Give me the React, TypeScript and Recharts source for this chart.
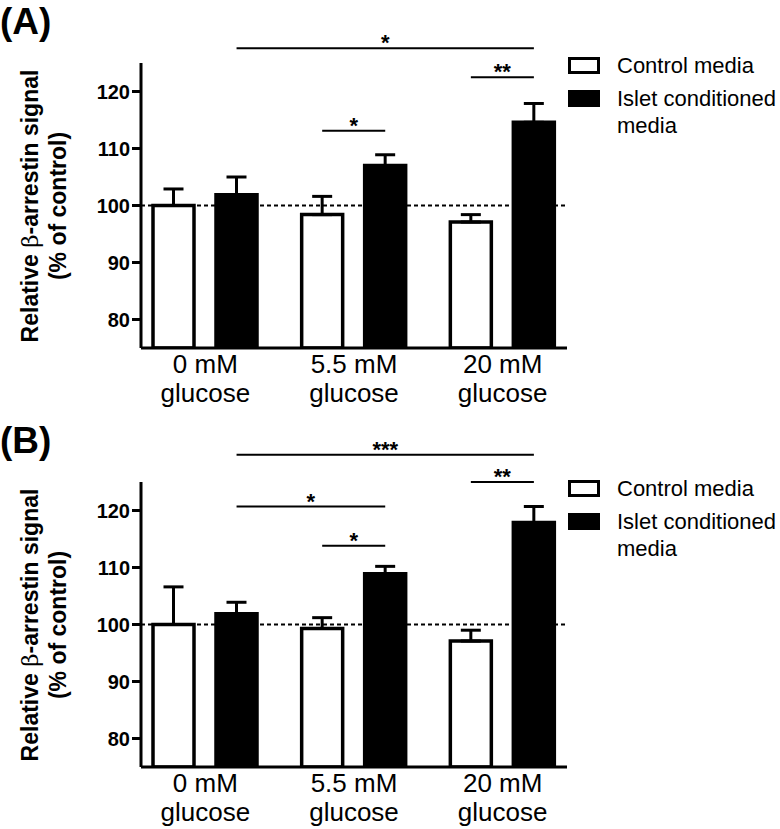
import React from 'react'
import { BarChart, Bar, XAxis, YAxis, ReferenceLine, ErrorBar, Legend } from 'recharts'

const FONT = '"Liberation Sans", Arial, Helvetica, sans-serif'

// categories
const groups = ['0 mM', '5.5 mM', '20 mM']
const groupSub = 'glucose'
const seriesNames = ['Control media', 'Islet conditioned media']

// panel A (mean, upper SEM)
const controlA = [100, 98.4, 97.1]
const controlErrA = [2.9, 3.2, 1.3]
const isletA = [101.9, 107.0, 114.6]
const isletErrA = [3.1, 1.9, 3.3]

// panel B
const controlB = [100, 99.3, 97.1]
const controlErrB = [6.6, 1.9, 1.9]
const isletB = [101.9, 108.9, 117.9]
const isletErrB = [2.0, 1.3, 2.8]

const yTicks = [80, 90, 100, 110, 120]
const yDomain = [75, 125]

// significance brackets: from/to = [group index, series], y in axis units
type Bracket = { from: [number, 'control' | 'islet']; to: [number, 'control' | 'islet']; y: number; mark: string }
const bracketsA: Bracket[] = [
  { from: [0, 'islet'], to: [2, 'islet'], y: 127.6, mark: '*' },
  { from: [2, 'control'], to: [2, 'islet'], y: 122.5, mark: '**' },
  { from: [1, 'control'], to: [1, 'islet'], y: 113.1, mark: '*' },
]
const bracketsB: Bracket[] = [
  { from: [0, 'islet'], to: [2, 'islet'], y: 129.8, mark: '***' },
  { from: [2, 'control'], to: [2, 'islet'], y: 125.0, mark: '**' },
  { from: [0, 'islet'], to: [1, 'islet'], y: 120.7, mark: '*' },
  { from: [1, 'control'], to: [1, 'islet'], y: 113.8, mark: '*' },
]

// bar centre inside a category band (fraction of the band), follows barSize/barGap below
const SERIES_POS = { control: 0.286, islet: 0.71 }

const buildRows = (ctrl: number[], ctrlErr: number[], isl: number[], islErr: number[]) =>
  groups.map((g, i) => ({
    group: g,
    slot: i + 0.5,
    control: ctrl[i],
    controlErr: [0, ctrlErr[i]],
    islet: isl[i],
    isletErr: [0, islErr[i]],
  }))

const GroupTick = ({ x, y, payload }: any) => (
  <text x={x} y={y} textAnchor="middle" fontFamily={FONT} fontSize={26} fill="#000">
    <tspan x={x} dy={25}>{payload.value}</tspan>
    <tspan x={x} dy={29}>{groupSub}</tspan>
  </text>
)

const starLabel = (mark: string) => (props: any) => {
  const vb = props.viewBox || {}
  return (
    <text x={vb.x + (vb.width || 0) / 2} y={vb.y + 2} textAnchor="middle" fontFamily={FONT} fontSize={22} fontWeight="bold" fill="#000">
      {mark}
    </text>
  )
}

const LegendBox = ({ payload }: any) => (
  <div style={{ position: 'relative', width: 213, height: 100, fontFamily: FONT, fontSize: 22, lineHeight: '27px', color: '#000' }}>
    {(payload || []).map((entry: any, i: number) => {
      const fill = entry.payload?.fill ?? entry.color
      return (
        <React.Fragment key={i}>
          <div style={{ position: 'absolute', left: 1, top: 5 + i * 33, width: 32, height: 17, boxSizing: 'border-box', border: '3px solid #000', background: fill }} />
          <div style={{ position: 'absolute', left: 50, top: i * 33, width: 165 }}>{entry.value}</div>
        </React.Fragment>
      )
    })}
  </div>
)

const AxisTitle = (tag: string) => () => (
  <g>
    <text x={0} y={34} fontFamily={FONT} fontSize={37} fontWeight="bold" fill="#000">{tag}</text>
    <text transform="rotate(-90)" x={-206} y={38} textAnchor="middle" fontFamily={FONT} fontSize={23} fontWeight="bold" fill="#000">
      Relative <tspan fontWeight="normal" fontFamily='"DejaVu Serif", serif'>β</tspan>-arrestin signal
    </text>
    <text transform="rotate(-90)" x={-206} y={66} textAnchor="middle" fontFamily={FONT} fontSize={23} fontWeight="bold" fill="#000">
      (% of control)
    </text>
  </g>
)

interface PanelProps {
  tag: string
  rows: any[]
  brackets: Bracket[]
  legendTop: number
}

function Panel({ tag, rows, brackets, legendTop }: PanelProps) {
  return (
    <BarChart width={780} height={410} data={rows} margin={{ top: 63, right: 213, bottom: 0, left: 81 }} barSize={41} barGap={22}>
      <XAxis
        dataKey="group"
        height={62}
        interval={0}
        tickLine={false}
        tickSize={0}
        tickMargin={0}
        axisLine={{ stroke: '#000', strokeWidth: 3 }}
        tick={<GroupTick />}
        padding={{ left: -10, right: -10 }}
      />
      <XAxis xAxisId="ann" dataKey="slot" type="number" domain={[0, 3]} allowDataOverflow hide padding={{ left: -10, right: -10 }} />
      <YAxis
        width={60}
        domain={yDomain}
        ticks={yTicks}
        interval={0}
        allowDataOverflow
        tickSize={9}
        tickMargin={2}
        axisLine={{ stroke: '#000', strokeWidth: 3 }}
        tickLine={{ stroke: '#000', strokeWidth: 3 }}
        tick={{ fill: '#000', fontSize: 20, fontWeight: 'bold', fontFamily: FONT }}
        label={{ content: AxisTitle(tag) }}
      />
      <Legend layout="vertical" align="center" verticalAlign="middle" wrapperStyle={{ left: 567, top: legendTop, width: 213 }} content={<LegendBox />} />
      <ReferenceLine y={100} stroke="#000" strokeWidth={2} strokeDasharray="4 3" />
      <Bar dataKey="control" name={seriesNames[0]} fill="#fff" stroke="#000" strokeWidth={3.5} isAnimationActive={false}>
        <ErrorBar dataKey="controlErr" width={10} stroke="#000" strokeWidth={3} />
      </Bar>
      <Bar dataKey="islet" name={seriesNames[1]} fill="#000" stroke="#000" strokeWidth={3.5} isAnimationActive={false}>
        <ErrorBar dataKey="isletErr" width={10} stroke="#000" strokeWidth={3} />
      </Bar>
      {brackets.map((b, i) => (
        <ReferenceLine
          key={i}
          xAxisId="ann"
          ifOverflow="visible"
          stroke="#000"
          strokeWidth={2}
          segment={[
            { x: b.from[0] + SERIES_POS[b.from[1]], y: b.y },
            { x: b.to[0] + SERIES_POS[b.to[1]], y: b.y },
          ]}
          label={{ content: starLabel(b.mark) }}
        />
      ))}
    </BarChart>
  )
}

export default function App() {
  const rowsA = buildRows(controlA, controlErrA, isletA, isletErrA)
  const rowsB = buildRows(controlB, controlErrB, isletB, isletErrB)
  return (
    <div style={{ position: 'absolute', left: 0, top: 0, width: 780, height: 829, background: '#fff', overflow: 'hidden' }}>
      <div style={{ position: 'absolute', left: 0, top: 0 }}>
        <Panel tag="(A)" rows={rowsA} brackets={bracketsA} legendTop={52} />
      </div>
      <div style={{ position: 'absolute', left: 0, top: 419 }}>
        <Panel tag="(B)" rows={rowsB} brackets={bracketsB} legendTop={56} />
      </div>
    </div>
  )
}
